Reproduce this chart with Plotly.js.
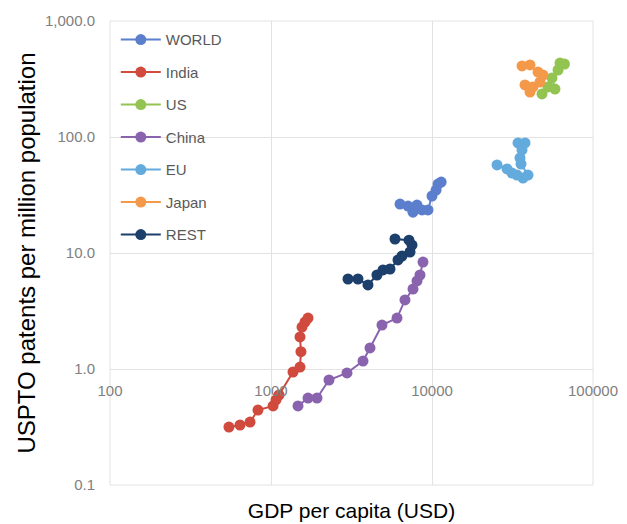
<!DOCTYPE html>
<html>
<head>
<meta charset="utf-8">
<script src="https://cdn.plot.ly/plotly-3.0.1.min.js"></script>
<style>html,body{margin:0;padding:0;background:#fff;}#chart{width:627px;height:524px;}</style>
</head>
<body>
<div id="chart"></div>
<script>
// Series names
const seriesNames = ["WORLD", "India", "US", "China", "EU", "Japan", "REST"];

// GDP per capita (USD) and USPTO patents per million population
const worldGdp = [6330, 7100, 7620, 8070, 8670, 9440, 10000, 10600, 10900, 11400];
const worldPat = [26.4, 25.4, 22.5, 25.9, 23.5, 23.5, 31.0, 34.9, 39.3, 40.9];

const indiaGdp = [548, 642, 741, 830, 1030, 1074, 1121, 1370, 1514, 1535, 1514, 1558, 1626, 1698];
const indiaPat = [0.316, 0.329, 0.349, 0.443, 0.48, 0.541, 0.597, 0.942, 1.04, 1.41, 1.89, 2.30, 2.54, 2.75];

const usGdp = [48230, 52530, 58070, 55640, 60650, 62370, 66500];
const usPat = [235, 270, 259, 323, 378, 434, 425];

const chinaGdp = [1471, 1698, 1931, 2292, 2965, 3727, 4120, 4890, 6064, 6795, 7621, 8070, 8420, 8790];
const chinaPat = [0.480, 0.562, 0.562, 0.804, 0.924, 1.17, 1.52, 2.39, 2.75, 3.94, 4.89, 5.74, 6.46, 8.36];

const euGdp = [34220, 37830, 36240, 35220, 35720, 39470, 36740, 33730, 31400, 29240, 25350];
const euPat = [88.8, 88.8, 77.3, 65.9, 58.5, 47.0, 44.3, 47.0, 48.9, 53.0, 57.4];

const japanGdp = [36240, 40620, 45540, 48900, 46880, 42410, 37830, 40620];
const japanPat = [410, 418, 363, 342, 298, 270, 281, 244];

const restGdp = [3008, 3469, 4002, 4552, 4962, 5484, 6148, 6513, 7300, 7516, 7197, 5890];
const restPat = [5.97, 5.97, 5.30, 6.46, 7.14, 7.28, 8.71, 9.42, 10.2, 11.7, 12.9, 13.2];

// Axis ticks
const xTickVals = [100, 1000, 10000, 100000];
const xTickText = ["100", "1000", "10000", "100000"];
const yTickVals = [0.1, 1, 10, 100, 1000];
const yTickText = ["0.1", "1.0", "10.0", "100.0", "1,000.0"];

const colors = ["#5b7fcd", "#d04a3e", "#93c452", "#8a63ae", "#63aadd", "#f4994a", "#1c3f6b"];
const xs = [worldGdp, indiaGdp, usGdp, chinaGdp, euGdp, japanGdp, restGdp];
const ys = [worldPat, indiaPat, usPat, chinaPat, euPat, japanPat, restPat];

const traces = seriesNames.map((name, i) => ({
  type: "scatter",
  mode: "lines+markers",
  name: name,
  legendgroup: "g" + i,
  x: xs[i],
  y: ys[i],
  line: {color: colors[i], width: 2},
  marker: {color: colors[i], size: 11}
}));

const tickFont = {family: "Liberation Sans, Arial, sans-serif", size: 15, color: "#808080"};

const layout = {
  width: 627,
  height: 524,
  margin: {l: 110, r: 34, t: 21, b: 39},
  paper_bgcolor: "#ffffff",
  plot_bgcolor: "#ffffff",
  showlegend: true,
  legend: {
    x: 0.012, y: 0.995, xanchor: "left", yanchor: "top",
    bgcolor: "rgba(0,0,0,0)",
    font: {family: "Liberation Sans, Arial, sans-serif", size: 15, color: "#595959"},
    tracegroupgap: 10,
    itemwidth: 40,
    traceorder: "grouped"
  },
  xaxis: {
    type: "log",
    range: [2, 5],
    tickvals: xTickVals,
    ticktext: xTickText,
    tickfont: tickFont,
    ticks: "",
    ticklabelstandoff: 11,
    showgrid: true,
    gridcolor: "#e2e2e2",
    zeroline: false,
    showline: false,
    anchor: "free",
    position: 0.25,
    title: {text: "GDP per capita (USD)", font: {family: "Liberation Sans, Arial, sans-serif", size: 21, color: "#000000"}, standoff: 105}
  },
  yaxis: {
    type: "log",
    range: [-1, 3],
    tickvals: yTickVals,
    ticktext: yTickText,
    tickfont: tickFont,
    ticks: "",
    ticklabelstandoff: 14,
    showgrid: true,
    gridcolor: "#e2e2e2",
    zeroline: false,
    showline: false,
    title: {text: "USPTO patents per million population", font: {family: "Liberation Sans, Arial, sans-serif", size: 24, color: "#000000"}, standoff: 2}
  },
  shapes: [{
    type: "rect", xref: "paper", yref: "paper", x0: 0, x1: 1, y0: 0, y1: 1,
    line: {color: "#e2e2e2", width: 1}, fillcolor: "rgba(0,0,0,0)", layer: "below"
  }]
};

Plotly.newPlot("chart", traces, layout, {displayModeBar: false, staticPlot: true});
</script>
</body>
</html>
